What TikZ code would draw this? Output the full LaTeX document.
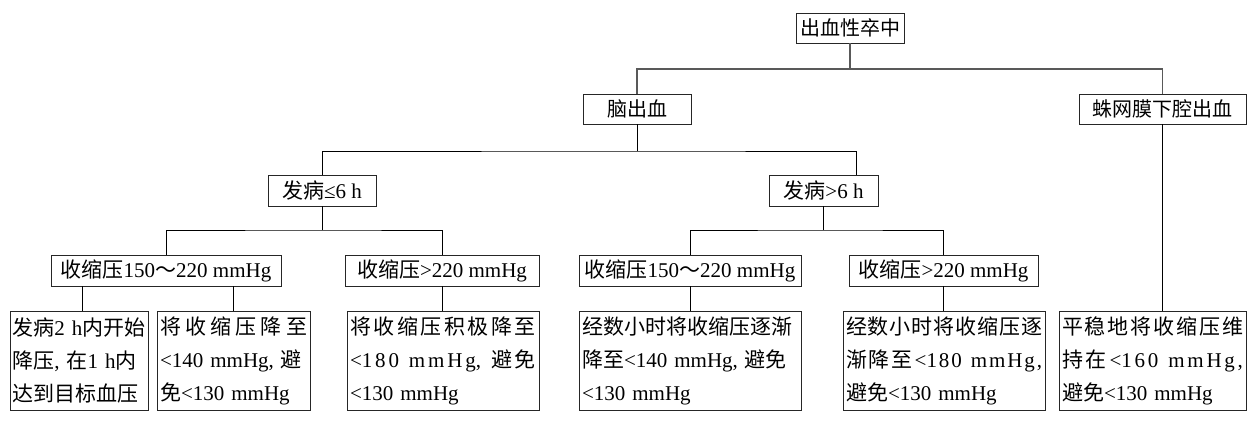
\documentclass[tikz,border=0pt]{standalone}
\usepackage{fontspec}
\setmainfont{Liberation Serif}
\newfontfamily\cjk{Noto Sans CJK SC}
\newcommand\zh[1]{{\cjk #1}}
\newcommand\jl[1]{\makebox[\hsize][s]{#1}}
\newcommand\fl{\hspace{0pt plus 1fil}}
\begin{document}
\begin{tikzpicture}[x=1pt,y=-1pt,
  box/.style={draw=black!85, line width=0.9pt, inner xsep=3pt, inner ysep=0pt,
    font=\fontsize{21}{33}\selectfont, minimum height=31pt},
  topbox/.style={box, font=\fontsize{20}{24}\selectfont, inner xsep=2pt, minimum height=30pt},
  leaf/.style={box, minimum height=99pt, align=left},
  link/.style={draw=black, line width=0.8pt},
  toplink/.style={draw=black!65, line width=1.3pt}]
\useasboundingbox (0,0) rectangle (1259,435);

% level 1-2
\node[topbox, minimum width=108pt] (A) at (850,28) {\zh{出血性卒中}};
\node[topbox, minimum width=108pt] (B) at (637,109) {\zh{脑出血}};
\node[topbox, minimum width=167pt] (C) at (1162.5,109) {\zh{蛛网膜下腔出血}};
% level 3
\node[box, minimum width=108pt] (D) at (322,190.5) {\zh{发病}≤6 h};
\node[box, minimum width=109pt] (E) at (823.5,190.5) {\zh{发病}>6 h};
% level 4
\node[box, minimum width=230pt] (F) at (166,270.5) {\zh{收缩压}150\zh{～}220 mmHg};
\node[box, minimum width=194pt] (G) at (442,270.5) {\zh{收缩压}>220 mmHg};
\node[box, minimum width=222pt] (H) at (690,270.5) {\zh{收缩压}150\zh{～}220 mmHg};
\node[box, minimum width=189pt] (I) at (943.5,270.5) {\zh{收缩压}>220 mmHg};
% leaves
\node[leaf, inner xsep=2.5pt, text width=133pt] (J1) at (79,360.5)
  {\jl{\zh{发病}2 h\zh{内开始}}\\\jl{\zh{降压}, \zh{在}1 h\zh{内}}\\\zh{达到目标血压}};
\node[leaf, text width=147pt] (J2) at (233.5,360.5)
  {\jl{\zh{将\fl 收\fl 缩\fl 压\fl 降\fl 至}}\\\jl{<140 mmHg, \zh{避}}\\\zh{免}<130 mmHg};
\node[leaf, text width=186pt] (J3) at (443,360.5)
  {\jl{\zh{将\fl 收\fl 缩\fl 压\fl 积\fl 极\fl 降\fl 至}}\\\jl{<1\fl 8\fl 0 \fl m\fl m\fl H\fl g, \fl\zh{避}\fl\zh{免}}\\<130 mmHg};
\node[leaf, text width=216pt] (J4) at (690,360.5)
  {\zh{经数小时将收缩压逐渐}\\\jl{\zh{降至}<140 mmHg, \zh{避免}}\\<130 mmHg};
\node[leaf, text width=196pt] (J5) at (944,360.5)
  {\jl{\zh{经\fl 数\fl 小\fl 时\fl 将\fl 收\fl 缩\fl 压\fl 逐}}\\\jl{\zh{渐}\fl\zh{降}\fl\zh{至}\fl<1\fl 8\fl 0 \fl m\fl m\fl H\fl g\fl ,}\\\zh{避免}<130 mmHg};
\node[leaf, text width=181pt] (J6) at (1152.5,360.5)
  {\jl{\zh{平\fl 稳\fl 地\fl 将\fl 收\fl 缩\fl 压\fl 维}}\\\jl{\zh{持}\fl\zh{在}\fl<1\fl 6\fl 0 \fl m\fl m\fl H\fl g\fl ,}\\\zh{避免}<130 mmHg};

% connectors
\coordinate (jA) at (850,69);
\draw[toplink] (A.south) -- (jA);
\draw[toplink] (B.north) |- (jA) -| (C.north);

\coordinate (jB) at (637,151);
\draw[link] (B.south) -- (jB);
\draw[link] (D.north) |- (jB) -| ([xshift=32.5pt]E.north);

\coordinate (jD) at (322,230);
\draw[link] (D.south) -- (jD);
\draw[link] (F.north) |- (jD) -| (G.north);

\coordinate (jE) at (823.5,230);
\draw[link] (E.south) -- (jE);
\draw[link] (H.north) |- (jE) -| (I.north);

\draw[link] ([xshift=3pt]J1.north) -- ([xshift=3pt]J1.north |- F.south);
\draw[link] (J2.north) -- (J2.north |- F.south);
\draw[link] (G.south) -- (G.south |- J3.north);
\draw[link] (H.south) -- (J4.north);
\draw[link] (I.south) -- (I.south |- J5.north);
\draw[link] (C.south) -- (C.south |- J6.north);
\end{tikzpicture}
\end{document}
